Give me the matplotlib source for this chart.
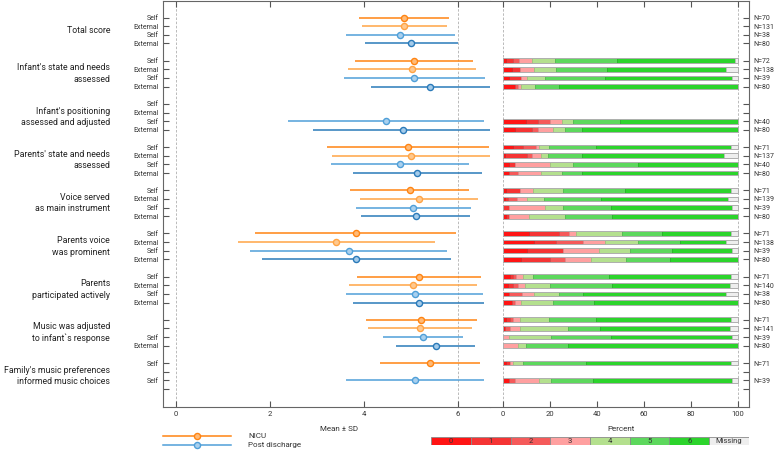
import numpy as np
import matplotlib
matplotlib.use("Agg")
import matplotlib.pyplot as plt
from matplotlib.patches import Rectangle
from matplotlib.lines import Line2D

plt.rcParams["font.family"] = ["Roboto", "DejaVu Sans"]

# ---- data -------------------------------------------------------------
groups = [
    "Total score",
    "Infant's state and needs\nassessed",
    "Infant's positioning\nassessed and adjusted",
    "Parents' state and needs\nassessed",
    "Voice served\nas main instrument",
    "Parents voice\nwas prominent",
    "Parents\nparticipated actively",
    "Music was adjusted\nto infant`s response",
    "Family's music preferences\ninformed music choices",
]

# row labels inside each group (NICU self, NICU external, post self, post external)
row_labels = [
    ["Self", "External", "Self", "External"],
    ["Self", "External", "Self", "External"],
    ["Self", "External", "Self", "External"],
    ["Self", "External", "Self", "External"],
    ["Self", "External", "Self", "External"],
    ["Self", "External", "Self", "External"],
    ["Self", "External", "Self", "External"],
    ["", "", "Self", "External"],
    ["Self", "", "Self", ""],
]

nan = np.nan
nicu_self_mean = [4.85, 5.06, nan, 4.93, 4.97, 3.82, 5.17, 5.22, 5.40]
nicu_self_sd = [0.95, 1.25, nan, 1.72, 1.26, 2.14, 1.31, 1.18, 1.06]
nicu_ext_mean = [4.86, 5.02, nan, 5.00, 5.17, 3.41, 5.05, 5.19, nan]
nicu_ext_sd = [0.90, 1.36, nan, 1.69, 1.26, 2.09, 1.36, 1.11, nan]
post_self_mean = [4.77, 5.07, 4.47, 4.77, 5.05, 3.67, 5.08, 5.25, 5.09]
post_self_sd = [1.16, 1.50, 2.08, 1.47, 1.22, 2.10, 1.46, 0.85, 1.47]
post_ext_mean = [5.00, 5.41, 4.83, 5.13, 5.10, 3.83, 5.16, 5.53, nan]
post_ext_sd = [0.99, 1.27, 1.91, 1.37, 1.16, 2.01, 1.40, 0.84, nan]

nicu_self_n = [70, 72, None, 71, 71, 71, 71, 71, 71]
nicu_ext_n = [131, 138, None, 137, 139, 138, 140, 141, None]
post_self_n = [38, 39, 40, 40, 39, 39, 38, 39, 39]
post_ext_n = [80, 80, 80, 80, 80, 80, 80, 80, None]

# response counts: categories 0..6 and Missing
categories = ["0", "1", "2", "3", "4", "5", "6", "Missing"]
nicu_self_counts = [
    None,
    [1, 2, 2, 4, 7, 19, 36, 1],
    None,
    [3, 3, 4, 1, 3, 14, 41, 2],
    [1, 4, 0, 4, 9, 19, 32, 2],
    [8, 9, 3, 2, 14, 12, 21, 2],
    [2, 1, 1, 2, 3, 23, 37, 2],
    [1, 1, 1, 2, 9, 14, 41, 2],
    [1, 1, 0, 1, 3, 19, 44, 2],
]
nicu_ext_counts = [
    None,
    [5, 5, 0, 8, 13, 30, 70, 7],
    None,
    [1, 13, 3, 5, 4, 20, 83, 8],
    [1, 2, 5, 6, 10, 34, 75, 6],
    [18, 13, 16, 13, 19, 25, 27, 7],
    [3, 3, 3, 4, 15, 37, 70, 5],
    [1, 0, 3, 6, 29, 19, 78, 5],
    None,
]
post_self_counts = [
    None,
    [1, 2, 0, 1, 3, 10, 21, 1],
    [4, 2, 2, 2, 2, 8, 20, 0],
    [1, 1, 0, 6, 4, 11, 17, 0],
    [0, 1, 0, 6, 3, 8, 20, 1],
    [4, 6, 0, 6, 5, 7, 10, 1],
    [1, 0, 2, 2, 4, 4, 23, 2],
    [0, 0, 0, 1, 7, 10, 20, 1],
    [1, 0, 1, 4, 2, 7, 23, 1],
]
post_ext_counts = [
    None,
    [4, 0, 1, 1, 5, 8, 61, 0],
    [4, 6, 2, 5, 4, 6, 53, 0],
    [2, 0, 3, 8, 7, 7, 53, 0],
    [1, 1, 0, 7, 12, 16, 43, 0],
    [6, 10, 5, 9, 12, 15, 23, 0],
    [3, 0, 1, 2, 11, 14, 49, 0],
    [0, 0, 0, 5, 3, 14, 58, 0],
    None,
]

# ---- styles -----------------------------------------------------------
cat_colors = ["#ff1414", "#f53434", "#f55a5a", "#ffa0a0", "#b4e08e", "#5dd85d", "#2cd42c", "#eeeeee"]
cat_edges = ["#c81010", "#c82828", "#cc4c4c", "#dc8c8c", "#98bf78", "#48b448", "#22aa22", "#bdbdbd"]
series = [
    (nicu_self_mean, nicu_self_sd, "#ff8412", "#ffbb78"),
    (nicu_ext_mean, nicu_ext_sd, "#ffa445", "#ffc98f"),
    (post_self_mean, post_self_sd, "#4f9fd8", "#a9d0ee"),
    (post_ext_mean, post_ext_sd, "#2a7ab9", "#a4cbea"),
]
bar_series = [nicu_self_counts, nicu_ext_counts, post_self_counts, post_ext_counts]
n_series = [nicu_self_n, nicu_ext_n, post_self_n, post_ext_n]

W, H = 777, 450
TXT = "#333333"


def box(x0, y0, x1, y1):
    return [x0 / W, 1 - y1 / H, (x1 - x0) / W, (y1 - y0) / H]


fig = plt.figure(figsize=(W / 100, H / 100), dpi=100)
ax = fig.add_axes(box(163, 0.6, 490, 407))
axb = fig.add_axes(box(490, 0.6, 749, 407))

rows = [5 * g + k for g in range(len(groups)) for k in range(4)]
ylim = (45.09, -1.96)

# ---- left panel: mean +- SD -------------------------------------------
for s, (mean, sd, col, face) in enumerate(series):
    for g in range(len(groups)):
        if np.isnan(mean[g]):
            continue
        y = 5 * g + s
        ax.plot([mean[g] - sd[g], mean[g] + sd[g]], [y, y], color=col, lw=1.1,
                solid_capstyle="butt", clip_on=False, zorder=3)
        ax.plot(mean[g], y, "o", ms=4.4, mfc=face, mec=col, mew=1.0, clip_on=False, zorder=4)

ax.set_xlim(-0.277, 6.68)
ax.set_ylim(*ylim)
for xv in (0, 6):
    ax.axvline(xv, color="#b0b0b0", lw=0.6, ls=(0, (3, 2)), zorder=1)
ax.set_xticks([0, 2, 4, 6])
ax.set_yticks(rows)
ax.set_yticklabels([lab for g in row_labels for lab in g])
ax.tick_params(axis="x", direction="in", top=True, length=4, labelsize=5.5, pad=3,
               colors="#555555", labelcolor=TXT)
ax.tick_params(axis="y", direction="in", length=4, labelsize=5, pad=3,
               colors="#555555", labelcolor=TXT)
ax.spines["right"].set_visible(False)
for sp in ("left", "bottom", "top"):
    ax.spines[sp].set_color("#666666")
    ax.spines[sp].set_linewidth(0.8)
ax.set_xlabel("Mean \u00b1 SD", fontsize=5.8, color=TXT)
ax.xaxis.set_label_coords((339 - 163) / 327, -0.047)

for g, name in enumerate(groups):
    ax.text(-0.162, 5 * g + 1.5, name, transform=ax.get_yaxis_transform(),
            ha="right", va="center", fontsize=6.3, color="#222222", linespacing=1.35)

# ---- right panel: stacked percent bars --------------------------------
for s, counts_list in enumerate(bar_series):
    for g in range(len(groups)):
        c = counts_list[g]
        if c is None:
            continue
        y = 5 * g + s
        pct = np.array(c, dtype=float) / sum(c) * 100
        left = np.concatenate([[0], np.cumsum(pct)[:-1]])
        axb.barh([y] * len(pct), pct, left=left, height=0.55, color=cat_colors,
                 edgecolor=cat_edges, lw=0.5, zorder=3)
        axb.add_patch(Rectangle((0, y - 0.275), 100, 0.55, fill=False,
                                edgecolor="#b0b0b0", lw=0.7, zorder=4))

axb.set_xlim(-5.53, 104.7)
axb.set_ylim(*ylim)
for xv in (0, 100):
    axb.axvline(xv, color="#b0b0b0", lw=0.6, ls=(0, (3, 2)), zorder=1)
axb.set_xticks(range(0, 101, 20))
axb.yaxis.tick_right()
axb.set_yticks(rows)
axb.set_yticklabels(["" if n[g] is None else f"N={n[g]}"
                     for g in range(len(groups)) for n in n_series])
axb.tick_params(axis="x", direction="in", top=True, length=4, labelsize=5.5, pad=3,
                colors="#555555", labelcolor=TXT)
axb.tick_params(axis="y", direction="in", length=4, labelsize=5, pad=3.5,
                colors="#555555", labelcolor=TXT)
axb.spines["left"].set_visible(False)
for sp in ("right", "bottom", "top"):
    axb.spines[sp].set_color("#666666")
    axb.spines[sp].set_linewidth(0.8)
axb.set_xlabel("Percent", fontsize=5.8, color=TXT)
axb.xaxis.set_label_coords(0.506, -0.047)

# ---- legends ----------------------------------------------------------
for (yy, col, face, label) in [(436, series[0][2], series[0][3], "NICU"),
                               (445, series[2][2], series[2][3], "Post discharge")]:
    fy = 1 - yy / H
    fig.add_artist(Line2D([163 / W, 231 / W], [fy, fy], color=col, lw=1.1))
    fig.add_artist(Line2D([197 / W], [fy], marker="o", ms=4.4, mfc=face, mec=col, mew=1.0))
    fig.text(248 / W, fy, label, fontsize=5.8, va="center", ha="left", color=TXT)

lax = fig.add_axes(box(431, 437, 749, 445))
lax.set_xlim(0, len(categories))
lax.set_ylim(0, 1)
lax.axis("off")
for i, (cat, fc) in enumerate(zip(categories, cat_colors)):
    lax.add_patch(Rectangle((i, 0), 1, 1, facecolor=fc, edgecolor="#8a8a8a", lw=0.6))
    lax.text(i + 0.5, 0.45, cat, ha="center", va="center", fontsize=5.5, color=TXT)

fig.savefig("out.png", dpi=100)
